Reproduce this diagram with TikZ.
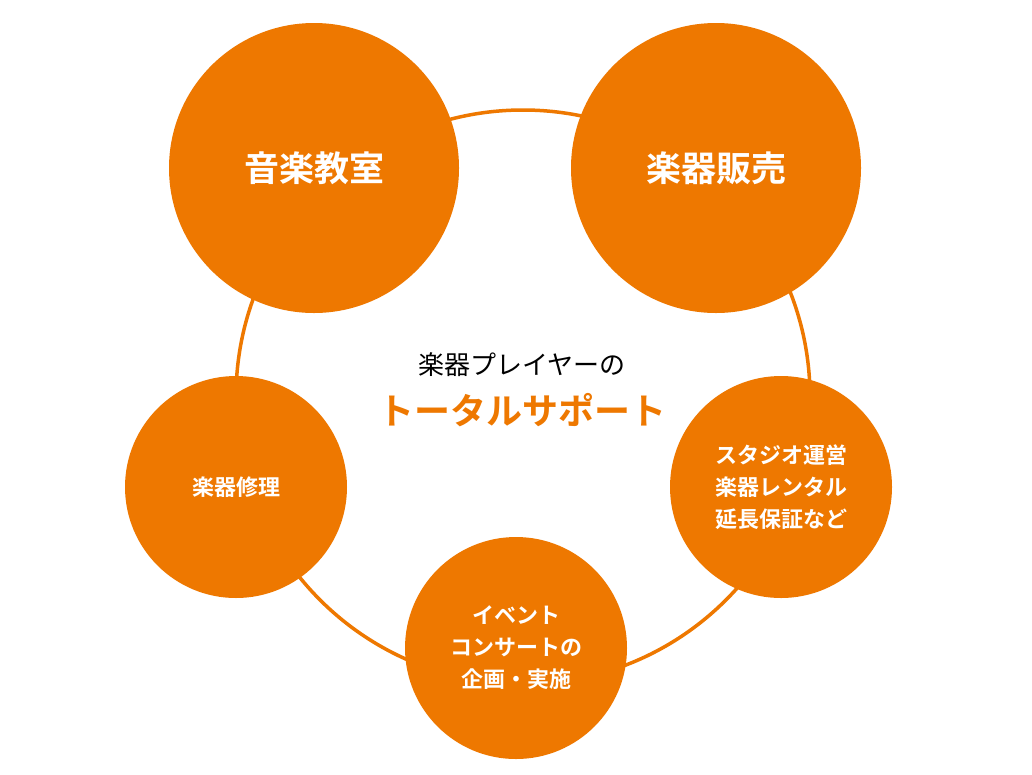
\documentclass[tikz,border=0pt]{standalone}
\usepackage{fontspec}
\newfontfamily\jpb{Noto Sans CJK JP Bold}
\newfontfamily\jp{Noto Sans CJK JP}
\definecolor{org}{HTML}{EE7800}
\begin{document}
\begin{tikzpicture}[x=1pt,y=-1pt,
  bub/.style={circle,fill=org,text=white,inner sep=0pt,align=center,font=\jpb}]
\useasboundingbox (0,0) rectangle (1032,774);
\fill[white] (0,0) rectangle (1032,774);
\coordinate (c) at (523,397);
\draw[org,line width=3.5pt] (c) circle[radius=287];
\node[bub,minimum size=290pt,font=\jpb\fontsize{35}{40}\selectfont] (a) at (314,168) {音楽教室};
\node[bub,minimum size=290pt,font=\jpb\fontsize{35}{40}\selectfont] (b) at (716,168) {楽器販売};
\node[bub,minimum size=222pt,font=\jpb\fontsize{22}{32}\selectfont] (d) at (236,487) {楽器修理};
\node[bub,minimum size=222pt,font=\jpb\fontsize{22}{32}\selectfont] (e) at (781,487) {スタジオ運営\\楽器レンタル\\延長保証など};
\node[bub,minimum size=222pt,font=\jpb\fontsize{22}{32}\selectfont] (f) at (516,648) {イベント\\コンサートの\\企画・実施};
\node[font=\jp\fontsize{26}{30}\selectfont] (t1) at (522,365) {楽器プレイヤーの};
\node[font=\jpb\fontsize{36}{40}\selectfont,text=org] (t2) at (522,410) {トータルサポート};
\end{tikzpicture}
\end{document}
